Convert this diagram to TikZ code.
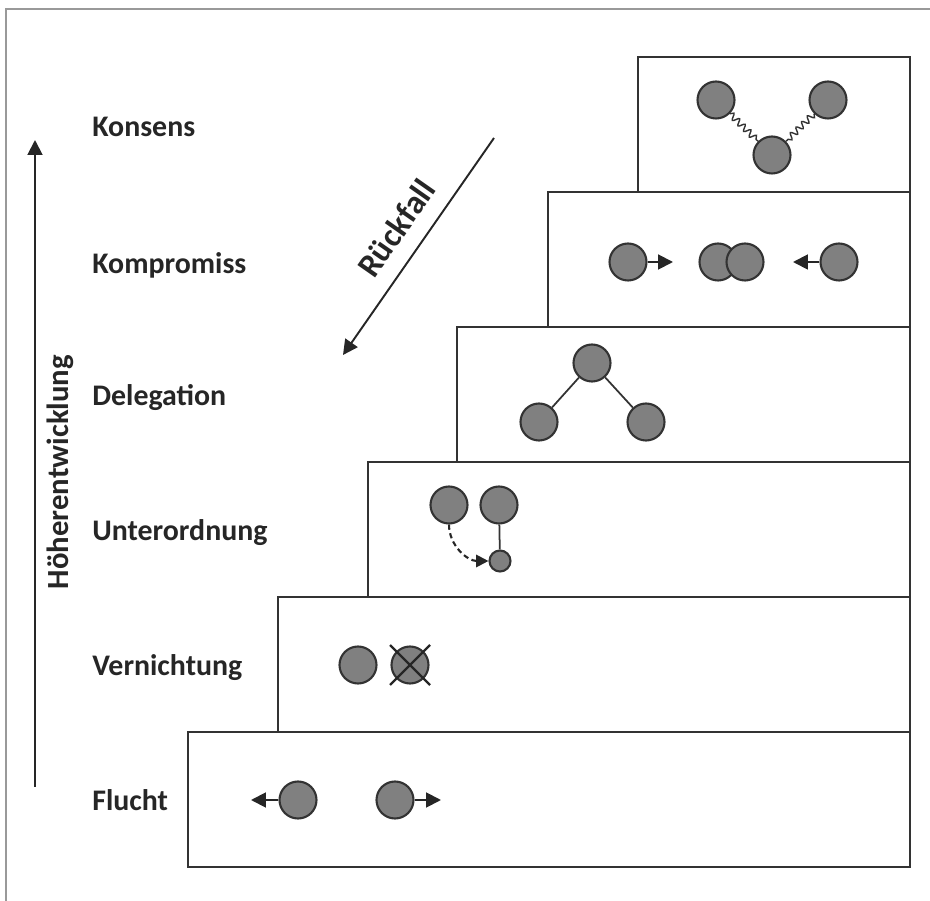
\documentclass[tikz,border=0pt]{standalone}
\usepackage{fontspec}
\setmainfont{Carlito}
\usetikzlibrary{arrows.meta,calc,decorations.pathmorphing}

\tikzset{
  ball/.style={circle,draw=black!80,fill=black!50,line width=1.2pt,minimum size=0.74cm,inner sep=0pt},
  smallball/.style={ball,minimum size=0.42cm},
  stair/.style={draw=black!80,line width=1pt},
  level/.style={font=\bfseries\fontsize{17}{20}\selectfont,text=black!85,anchor=base west,inner sep=0pt},
  tip/.style={-{Triangle[length=8.5pt,width=8.5pt]},line width=1.1pt,draw=black!85},
  wave/.style={draw=black!80,line width=0.8pt,decorate,decoration={snake,amplitude=1.8pt,segment length=4.5pt}},
}

\begin{document}
\begin{tikzpicture}[x=0.02cm,y=-0.02cm]
		\useasboundingbox (0,0) rectangle (930,901);
		\draw[black!40,line width=1.2pt] (6,901)--(6,9)--(930,9);
		% Stufen
		\foreach \x/\y in {638/57,548/192,457/327,368/462,278/597,188/732}
			\draw[stair] (\x,\y) rectangle (910,\y+135);
		% Beschriftung
		\node[level] (konsens) at (92,137) {Konsens};
		\node[level] (kompromiss) at (92,274) {Kompromiss};
		\node[level] (delegation) at (92,406) {Delegation};
		\node[level] (unterordnung) at (92,541) {Unterordnung};
		\node[level] (vernichtung) at (92,676) {Vernichtung};
		\node[level] (flucht) at (92,810) {Flucht};
		\coordinate (upStart) at (35,787);
		\coordinate (upEnd) at (35,140);
		\draw[tip] (upStart)--(upEnd);
		\node[rotate=90,font=\bfseries\fontsize{17.5}{20}\selectfont,text=black!85] (hoeher) at (60,472) {Höherentwicklung};
		\coordinate (fallStart) at (494,138);
		\coordinate (fallEnd) at (343,355);
		\draw[tip] (fallStart)--(fallEnd);
		\node[rotate=55,font=\bfseries\fontsize{19}{22}\selectfont,text=black!85] (rueckfall) at (396,228) {Rückfall};
		% Konsens
		\node[ball] (k1) at (716,100) {};
		\node[ball] (k2) at (828,100) {};
		\node[ball] (k3) at (772,155) {};
		\draw[wave] (k1)--(k3);
		\draw[wave] (k2)--(k3);
		% Kompromiss
		\node[ball] (p1) at (628,262) {};
		\coordinate (p1tip) at (673,262);
		\draw[tip] (p1.east)--(p1tip);
		\node[ball] (p2) at (718,262) {};
		\node[ball] (p3) at (745,262) {};
		\node[ball] (p4) at (839,262) {};
		\coordinate (p4tip) at (793,262);
		\draw[tip] (p4.west)--(p4tip);
		% Delegation
		\node[ball] (d1) at (592,363) {};
		\node[ball] (d2) at (539,422) {};
		\node[ball] (d3) at (646,422) {};
		\draw[black!80,line width=1pt] (d2)--(d1)--(d3);
		% Unterordnung
		\node[ball] (u1) at (449,505) {};
		\node[ball] (u2) at (499,505) {};
		\node[smallball] (u3) at (500,561) {};
		\draw[black!80,line width=1pt] (u2)--(u3);
		\draw[black!85,line width=1.2pt,dash pattern=on 3pt off 2pt,-{Triangle[length=7pt,width=7pt]}] (u1.south) to[out=-90,in=180] (u3.west);
		% Vernichtung
		\node[ball] (v1) at (358,665) {};
		\node[ball] (v2) at (410,665) {};
		\draw[black!85,line width=1.3pt] ($(v2)+(-20,-20)$)--($(v2)+(20,20)$);
		\draw[black!85,line width=1.3pt] ($(v2)+(-20,20)$)--($(v2)+(20,-20)$);
		% Flucht
		\node[ball] (f1) at (298,800) {};
		\coordinate (f1tip) at (251,800);
		\draw[tip] (f1.west)--(f1tip);
		\node[ball] (f2) at (395,800) {};
		\coordinate (f2tip) at (441,800);
		\draw[tip] (f2.east)--(f2tip);
\end{tikzpicture}
\end{document}
